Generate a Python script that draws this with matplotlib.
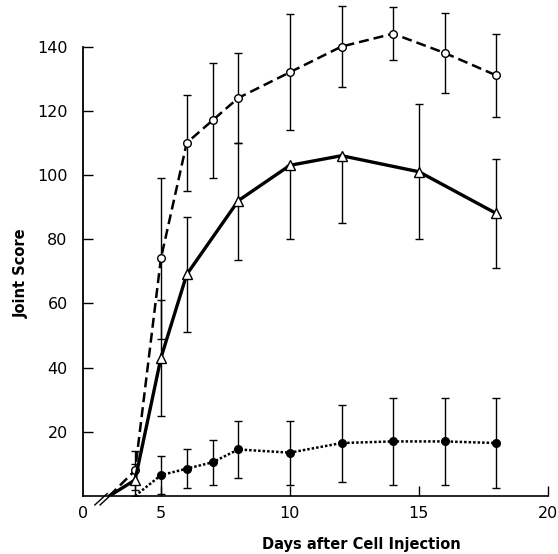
import matplotlib
matplotlib.use("Agg")
import matplotlib.pyplot as plt

# ---- data ----
days_open = [3, 4, 5, 6, 7, 8, 10, 12, 14, 16, 18]
open_vals = [0, 8, 74, 110, 117, 124, 132, 140, 144, 138, 131]
open_err = [0, 6, 25, 15, 18, 14, 18, 12.5, 8.3, 12.5, 13]

days_tri = [3, 4, 5, 6, 8, 10, 12, 15, 18]
tri_vals = [0, 5, 43, 69, 92, 103, 106, 101, 88]
tri_err_low = [0, 5, 18, 18, 18.5, 23, 21, 21, 17]
tri_err_up = [0, 5, 18, 18, 18, 0, 0, 21, 17]

days_fill = [4, 5, 6, 7, 8, 10, 12, 14, 16, 18]
fill_vals = [0, 6.5, 8.5, 10.5, 14.5, 13.5, 16.5, 17, 17, 16.5]
fill_err = [0, 6, 6, 7, 9, 10, 12, 13.5, 13.5, 14]

xticks = [5, 10, 15, 20]
yticks = [20, 40, 60, 80, 100, 120, 140]
x_origin = 1.98  # broken-axis origin position, labelled "0"

plt.rcParams['font.family'] = ['DejaVu Sans']

W, H = 558, 554
fig = plt.figure(figsize=(W / 100, H / 100), dpi=100)
ax = fig.add_axes([83 / W, 58 / H, (W - 83) / W, 496 / H])
ax.set_xlim(x_origin, 20.39)
ax.set_ylim(0, 154.5)

ekw = dict(ecolor='black', elinewidth=1.0, capsize=2.9, capthick=1.0, fmt='none', zorder=2)

# error bars
ax.errorbar(days_open[1:], open_vals[1:], yerr=open_err[1:], **ekw)
ax.errorbar(days_tri[1:], tri_vals[1:], yerr=[tri_err_low[1:], tri_err_up[1:]], **ekw)
ax.errorbar(days_fill[1:], fill_vals[1:], yerr=fill_err[1:], **ekw)

# lines
ax.plot(days_open, open_vals, color='black', lw=1.8, linestyle=(0, (4, 2)),
        marker='o', markersize=5.5, markerfacecolor='white', markeredgecolor='black',
        markeredgewidth=1.0, markevery=slice(1, None), zorder=3)
ax.plot(days_tri, tri_vals, color='black', lw=2.4, linestyle='-',
        marker='^', markersize=7, markerfacecolor='white', markeredgecolor='black',
        markeredgewidth=1.0, markevery=slice(1, None), zorder=3)
ax.plot(days_fill, fill_vals, color='black', lw=1.8, linestyle=(0, (1, 0.8)),
        marker='o', markersize=5.5, markerfacecolor='black', markeredgecolor='black',
        markevery=slice(1, None), zorder=3)

# spines
for s in ['top', 'right']:
    ax.spines[s].set_visible(False)
ax.spines['left'].set_bounds(0, 140)
ax.spines['bottom'].set_bounds(x_origin, 20)
ax.spines['left'].set_linewidth(1.3)
ax.spines['bottom'].set_linewidth(1.2)

ax.set_xticks([x_origin] + xticks)
ax.set_xticklabels(['0'] + [str(t) for t in xticks])
ax.set_yticks(yticks)
ax.set_yticklabels([str(t) for t in yticks])
ax.tick_params(axis='y', direction='in', length=7, width=1.0, pad=11, labelsize=11.5)
ax.tick_params(axis='x', direction='in', length=7, width=1.0, pad=7, labelsize=11.5)
ax.xaxis.get_major_ticks()[0].tick1line.set_visible(False)

# break marks near origin
for dx in (0.0, 0.011):
    ax.plot([0.025 + dx, 0.051 + dx], [-0.018, 0.005], transform=ax.transAxes,
            color='black', lw=1.0, clip_on=False)

fig.text(361 / W, 1 - 544 / H, 'Days after Cell Injection', ha='center', va='center',
         fontsize=10.5, fontweight='bold')
fig.text(21 / W, 1 - 273 / H, 'Joint Score', ha='center', va='center', rotation=90,
         fontsize=10.5, fontweight='bold')

fig.savefig('out.png', dpi=100)
